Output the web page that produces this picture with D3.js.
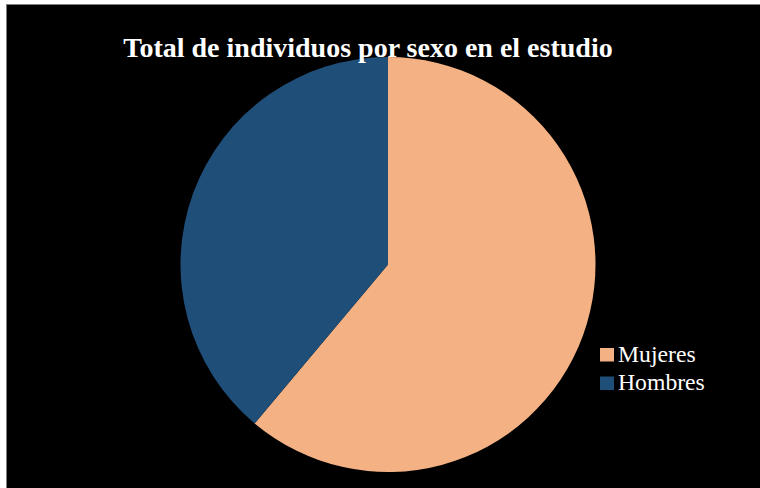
<!DOCTYPE html>
<html>
<head>
<meta charset="utf-8">
<script src="https://cdn.jsdelivr.net/npm/d3@7"></script>
<style>
  html, body { margin: 0; padding: 0; background: #ffffff; }
  svg { display: block; }
</style>
</head>
<body>
<svg id="chart" width="760" height="488"></svg>
<script>
const categories = ["Mujeres", "Hombres"];
const values = [22, 14];
const colors = ["#F4B183", "#1F4E79"];
const title = "Total de individuos por sexo en el estudio";

const svg = d3.select("#chart");
const W = 760, H = 488;
const font = "'Liberation Serif', 'Times New Roman', serif";

svg.append("rect")
  .attr("x", 6.5).attr("y", 4.5)
  .attr("width", W).attr("height", H)
  .attr("fill", "#000").attr("stroke", "#7f7f7f").attr("stroke-width", 1);

const cx = 388, cy = 264.5, r = 207.5;
const data = categories.map((c, i) => ({ cat: c, value: values[i] }));
const color = d3.scaleOrdinal().domain(categories).range(colors);
const pie = d3.pie().sort(null).value(d => d.value);
const arc = d3.arc().innerRadius(0).outerRadius(r);

svg.append("g").attr("transform", `translate(${cx},${cy})`)
  .selectAll("path").data(pie(data)).join("path")
  .attr("d", arc)
  .attr("fill", d => color(d.data.cat));

svg.append("text")
  .attr("x", 368).attr("y", 57)
  .attr("text-anchor", "middle")
  .attr("font-family", font).attr("font-weight", "bold")
  .attr("font-size", 28).attr("fill", "#fff")
  .text(title);

const legend = svg.append("g").attr("transform", "translate(600,348)");
const item = legend.selectAll("g").data(categories).join("g")
  .attr("transform", (d, i) => `translate(0,${i * 28.5})`);
item.append("rect").attr("width", 14).attr("height", 13.5)
  .attr("fill", d => color(d));
item.append("text").attr("x", 18).attr("y", 13.5)
  .attr("font-family", font).attr("font-size", 23.7).attr("fill", "#fff")
  .text(d => d);
</script>
</body>
</html>
